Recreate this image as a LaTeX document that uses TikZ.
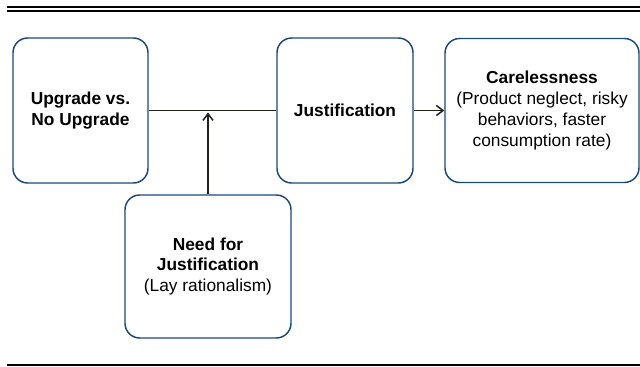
\documentclass[tikz,border=0pt]{standalone}
\usepackage{fontspec}
\setmainfont{Liberation Sans}
\usepackage{xcolor}
\definecolor{boxblue}{HTML}{1C4A78}
\definecolor{linedark}{HTML}{231F1A}
\usepackage{tikz}
\usetikzlibrary{arrows.meta}

\begin{document}
\begin{tikzpicture}[
  x=0.75pt, y=-0.75pt,
  font=\fontsize{13}{15.6}\selectfont,
  box/.style={draw=boxblue, rounded corners=11pt, line width=1.1pt,
              align=center, inner sep=2pt},
  rule/.style={draw=black, line width=1.5pt},
  conn/.style={draw=linedark, line width=1.1pt},
  arr/.style={conn, -{Straight Barb[length=5pt, width=7.5pt]}}
]
\useasboundingbox (0,0) rectangle (640,367);

% top and bottom rules
\draw[rule] (7,7) -- (640,7);
\draw[rule] (7,11.5) -- (640,11.5);
\draw[rule, line width=1.1pt] (7,365) -- (640,365);

\node[box, minimum width=101.25pt, minimum height=108.75pt] (upg) at (80.5,110.5)
  {\textbf{Upgrade vs.}\\\textbf{No Upgrade}};
\node[box, minimum width=102pt, minimum height=108.75pt] (just) at (345,110.5)
  {\textbf{Justification}};
\node[box, minimum width=145.5pt, minimum height=108pt] (care) at (542,110.5)
  {\textbf{Carelessness}\\(Product neglect, risky\\behaviors, faster\\consumption rate)};
\node[box, minimum width=124.5pt, minimum height=107.25pt] (need) at (208,266.5)
  {\textbf{Need for}\\\textbf{Justification}\\(Lay rationalism)};

\coordinate (join) at (need.north |- just.west);

\draw[conn] (upg) -- (just);
\draw[arr, shorten >=1.5pt] (need) -- (join);
\draw[arr] (just) -- (care);
\end{tikzpicture}
\end{document}
